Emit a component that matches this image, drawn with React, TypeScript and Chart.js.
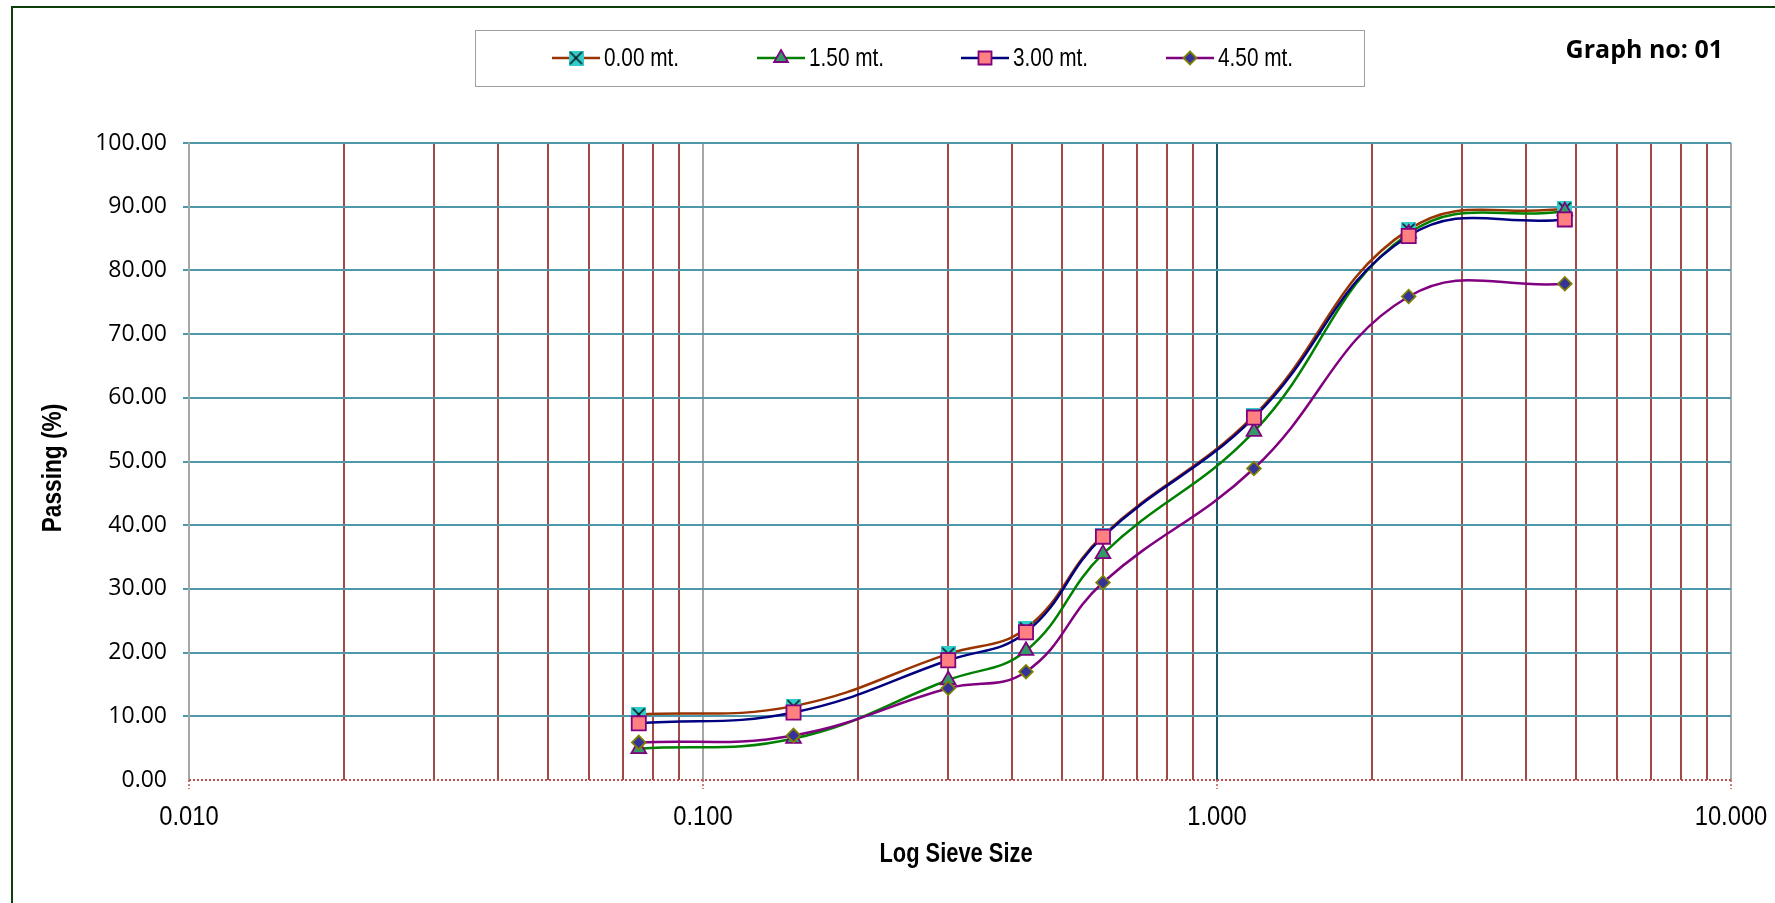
import React, { useEffect, useRef } from 'react';
import { Chart, registerables } from 'chart.js';

Chart.register(...registerables);

// ---- data ----
const sieveSizes = [0.075, 0.15, 0.3, 0.425, 0.6, 1.18, 2.36, 4.75];
const passing000 = [10.3, 11.6, 19.8, 23.8, 38.4, 57.2, 86.4, 89.7];
const passing150 = [4.9, 6.5, 15.7, 20.3, 35.5, 54.7, 85.8, 89.3];
const passing300 = [8.9, 10.6, 18.8, 23.2, 38.2, 56.9, 85.4, 88.0];
const passing450 = [5.9, 7.0, 14.4, 17.0, 31.0, 48.9, 75.9, 77.9];
const seriesLabels = ['0.00 mt.', '1.50 mt.', '3.00 mt.', '4.50 mt.'];

const xTickValues = [
  0.01, 0.02, 0.03, 0.04, 0.05, 0.06, 0.07, 0.08, 0.09,
  0.1, 0.2, 0.3, 0.4, 0.5, 0.6, 0.7, 0.8, 0.9,
  1, 2, 3, 4, 5, 6, 7, 8, 9,
  10,
];
const xLabelValues = [0.01, 0.1, 1, 10];
const xLabelTexts = ['0.010', '0.100', '1.000', '10.000'];
const xTitle = 'Log Sieve Size';
const yTitle = 'Passing (%)';
const graphTitle = 'Graph no: 01';

const LIB = '"Liberation Sans", Arial, sans-serif';
const SANS = '"Open Sans", "Noto Sans", sans-serif';

function makeXMarker(): HTMLCanvasElement {
  const c = document.createElement('canvas');
  c.width = 15;
  c.height = 15;
  const g = c.getContext('2d')!;
  g.fillStyle = '#33cccc';
  g.fillRect(0, 0, 15, 15);
  g.strokeStyle = '#000';
  g.lineWidth = 1.4;
  g.beginPath();
  g.moveTo(1.5, 1.5);
  g.lineTo(13.5, 13.5);
  g.moveTo(13.5, 1.5);
  g.lineTo(1.5, 13.5);
  g.stroke();
  return c;
}

function narrowText(
  ctx: CanvasRenderingContext2D,
  text: string,
  x: number,
  y: number,
  font: string,
  align: CanvasTextAlign,
  sx: number,
  rotate = 0,
) {
  ctx.save();
  ctx.translate(x, y);
  if (rotate) ctx.rotate(rotate);
  ctx.scale(sx, 1);
  ctx.font = font;
  ctx.fillStyle = '#000';
  ctx.textAlign = align;
  ctx.textBaseline = 'middle';
  ctx.fillText(text, 0, 0);
  ctx.restore();
}

export default function App() {
  const ref = useRef<HTMLCanvasElement>(null);

  useEffect(() => {
    document.body.style.margin = '0';
    document.body.style.overflow = 'hidden';
    const canvas = ref.current!;
    const xMarker = makeXMarker();

    const styles = [
      { line: '#993300', style: xMarker as any, fill: '#33cccc', border: '#000000', radius: 7 },
      { line: '#008000', style: 'triangle', fill: '#339966', border: '#800080', radius: 8.5 },
      { line: '#000080', style: 'rect', fill: '#ff8080', border: '#800080', radius: 10 },
      { line: '#800080', style: 'rectRot', fill: '#333399', border: '#808000', radius: 6.8 },
    ];
    const values = [passing000, passing150, passing300, passing450];

    const datasets = values.map((vals, i) => ({
      label: seriesLabels[i],
      data: sieveSizes.map((x, j) => ({ x, y: vals[j] })),
      borderColor: styles[i].line,
      borderWidth: 2.5,
      tension: 0.42,
      fill: false,
      pointStyle: styles[i].style,
      pointRadius: styles[i].radius,
      pointBackgroundColor: styles[i].fill,
      pointBorderColor: styles[i].border,
      pointBorderWidth: 1.8,
      order: 4 - i,
    }));

    const decorPlugin = {
      id: 'decor',
      beforeDraw(chart: any) {
        const ctx = chart.ctx;
        ctx.save();
        ctx.fillStyle = '#ffffff';
        ctx.fillRect(0, 0, chart.width, chart.height);
        ctx.restore();
      },
      beforeDatasetsDraw(chart: any) {
        const ctx = chart.ctx;
        const xs = chart.scales.x;
        const area = chart.chartArea;
        ctx.save();
        // dotted x axis line
        ctx.strokeStyle = '#c0504d';
        ctx.lineWidth = 2;
        ctx.setLineDash([2, 2]);
        ctx.beginPath();
        ctx.moveTo(area.left, area.bottom);
        ctx.lineTo(area.right, area.bottom);
        ctx.stroke();
        // dotted tick marks at labelled values
        ctx.lineWidth = 1.5;
        xLabelValues.forEach((v) => {
          const px = Math.round(xs.getPixelForValue(v));
          ctx.beginPath();
          ctx.moveTo(px, area.bottom);
          ctx.lineTo(px, area.bottom + 9);
          ctx.stroke();
        });
        ctx.restore();
      },
      afterDraw(chart: any) {
        const ctx = chart.ctx;
        const xs = chart.scales.x;
        ctx.save();
        // outer frame
        ctx.strokeStyle = '#0d3f0d';
        ctx.lineWidth = 2;
        ctx.strokeRect(12, 7, 2000, 2000);

        // x tick labels
        xLabelValues.forEach((v, i) => {
          narrowText(ctx, xLabelTexts[i], xs.getPixelForValue(v), 818, `27px ${LIB}`, 'center', 0.88);
        });

        // legend box
        ctx.strokeStyle = '#a0a0a0';
        ctx.lineWidth = 1;
        ctx.strokeRect(475.5, 30.5, 889, 56);
        const centers = [576, 781, 985, 1190];
        const ly = 58;
        centers.forEach((cx, i) => {
          const s = styles[i];
          ctx.strokeStyle = s.line;
          ctx.lineWidth = 2.5;
          ctx.beginPath();
          ctx.moveTo(cx - 24, ly);
          ctx.lineTo(cx + 24, ly);
          ctx.stroke();
          ctx.fillStyle = s.fill;
          ctx.strokeStyle = s.border;
          ctx.lineWidth = 1.8;
          if (i === 0) {
            ctx.drawImage(xMarker, cx - 7.5, ly - 7.5);
          } else if (i === 1) {
            const r = 8;
            ctx.beginPath();
            ctx.moveTo(cx, ly - r);
            ctx.lineTo(cx + r * 0.866, ly + r * 0.5);
            ctx.lineTo(cx - r * 0.866, ly + r * 0.5);
            ctx.closePath();
            ctx.fill();
            ctx.stroke();
          } else if (i === 2) {
            ctx.beginPath();
            ctx.rect(cx - 6.5, ly - 6.5, 13, 13);
            ctx.fill();
            ctx.stroke();
          } else {
            const r = 6.5;
            ctx.beginPath();
            ctx.moveTo(cx, ly - r);
            ctx.lineTo(cx + r, ly);
            ctx.lineTo(cx, ly + r);
            ctx.lineTo(cx - r, ly);
            ctx.closePath();
            ctx.fill();
            ctx.stroke();
          }
          narrowText(ctx, seriesLabels[i], cx + 28, ly + 1, `26px ${LIB}`, 'left', 0.8);
        });

        // graph title
        ctx.fillStyle = '#000';
        ctx.font = `bold 25px ${SANS}`;
        ctx.textAlign = 'right';
        ctx.textBaseline = 'middle';
        ctx.fillText(graphTitle, 1723, 51);

        // axis titles
        narrowText(ctx, xTitle, 956, 855, `bold 27px ${LIB}`, 'center', 0.81);
        narrowText(ctx, yTitle, 54, 468, `bold 27px ${LIB}`, 'center', 0.84, -Math.PI / 2);
        ctx.restore();
      },
    };

    const chart = new Chart(canvas, {
      type: 'line',
      data: { datasets: datasets as any },
      options: {
        animation: false,
        responsive: false,
        devicePixelRatio: 1,
        layout: { padding: { left: 0, top: 143, right: 44, bottom: 0 } },
        plugins: {
          legend: { display: false },
          title: { display: false },
          tooltip: { enabled: false },
        },
        scales: {
          x: {
            type: 'logarithmic',
            min: 0.01,
            max: 10,
            afterBuildTicks: (axis: any) => {
              axis.ticks = xTickValues.map((v) => ({ value: v }));
            },
            afterFit: (axis: any) => {
              axis.height = 123;
            },
            ticks: {
              display: false,
              autoSkip: false,
              maxRotation: 0,
            },
            grid: {
              color: (c: any) => {
                const v = c.tick?.value;
                if (v === 1) return '#1d5866';
                if (v === 0.01 || v === 0.1 || v === 10) return '#a6a6a6';
                return '#a24848';
              },
              lineWidth: 2,
              drawTicks: false,
            },
            border: { display: false },
          },
          y: {
            type: 'linear',
            min: 0,
            max: 100,
            afterFit: (axis: any) => {
              axis.width = 189;
            },
            ticks: {
              stepSize: 10,
              color: '#000',
              font: { family: SANS, size: 23 },
              padding: 16,
              callback: (v: any) => Number(v).toFixed(2),
            },
            grid: {
              color: (c: any) => (c.tick?.value === 0 ? 'rgba(0,0,0,0)' : '#4f98aa'),
              lineWidth: 2,
              drawTicks: true,
              tickLength: 6,
              tickColor: (c: any) => (c.tick?.value === 0 ? 'rgba(0,0,0,0)' : '#4f98aa'),
            },
            border: { display: true, color: '#a6a6a6', width: 2 },
          },
        },
      },
      plugins: [decorPlugin],
    } as any);

    return () => chart.destroy();
  }, []);

  return (
    <div style={{ position: 'absolute', left: 0, top: 0, width: 1775, height: 903 }}>
      <canvas ref={ref} width={1775} height={903} />
    </div>
  );
}
